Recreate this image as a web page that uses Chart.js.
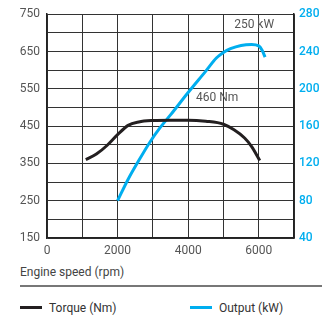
<!DOCTYPE html>
<html>
<head>
<meta charset="utf-8">
<script src="https://cdn.jsdelivr.net/npm/chart.js@4/dist/chart.umd.min.js"></script>
<style>
  body { margin: 0; background: #fff; font-family: Roboto, "Liberation Sans", sans-serif; }
  #wrap { position: relative; width: 322px; height: 316px; }
  #box { position: absolute; left: 0; top: 0; width: 322px; height: 262px; }
  .xtitle { position: absolute; left: 20px; top: 265px; font-size: 12px; color: #444; }
  .rule { position: absolute; left: 20px; top: 285px; width: 302px; height: 2px; background: #777; }
  .leg { position: absolute; top: 301px; font-size: 12px; color: #333; }
  .leg span { display: inline-block; width: 22px; height: 3px; vertical-align: middle; margin-right: 7px; position: relative; top: -1px; }
</style>
</head>
<body>
<div id="wrap">
  <div id="box"><canvas id="engineChart"></canvas></div>
  <div class="xtitle">Engine speed (rpm)</div>
  <div class="rule"></div>
  <div class="leg" style="left:20px"><span style="background:#231f20"></span>Torque (Nm)</div>
  <div class="leg" style="left:190px"><span style="background:#00aeef"></span>Output (kW)</div>
</div>
<script>
// values
const torqueRpm = [1100, 1400, 1700, 2000, 2300, 2600, 3000, 3500, 4000, 4500, 5000, 5300, 5600, 5800, 6030];
const torqueNm  = [360, 375, 398, 427, 452, 461, 465, 466, 466, 463, 455, 440, 418, 395, 358];
const outputRpm = [2000, 2300, 2600, 2920, 3200, 3500, 4000, 4500, 4800, 5000, 5200, 5500, 5800, 6000, 6100, 6180];
const outputKw  = [80, 103, 123, 143, 158, 172, 196, 219, 233, 239, 243, 246.5, 247.5, 246, 241, 234];

const torqueTicks = [150, 250, 350, 450, 550, 650, 750];
const speedTicks = [0, 2000, 4000, 6000];
const peakLabels = [
  { text: '250 kW', x: 5870, y: 268, axis: 'yR' },
  { text: '460 Nm', x: 4820, y: 524, axis: 'y' }
];

function pairs(xs, ys) {
  return xs.map((v, i) => ({ x: v, y: ys[i] }));
}

// draws the two peak value notes inside the plot
const peakPlugin = {
  id: 'peaks',
  afterDatasetsDraw(chart) {
    const ctx = chart.ctx;
    ctx.save();
    ctx.font = '12px Roboto, "Liberation Sans", sans-serif';
    ctx.fillStyle = '#555';
    ctx.textAlign = 'center';
    ctx.textBaseline = 'middle';
    peakLabels.forEach(p => {
      const px = chart.scales.x.getPixelForValue(p.x);
      const py = chart.scales[p.axis].getPixelForValue(p.y);
      ctx.fillText(p.text, px, py);
    });
    ctx.restore();
  }
};

Chart.defaults.font.family = 'Roboto, "Liberation Sans", sans-serif';
Chart.defaults.font.size = 12;

const ctx = document.getElementById('engineChart').getContext('2d');
const chart = new Chart(ctx, {
  type: 'line',
  data: {
    datasets: [{
      label: 'Torque (Nm)',
      data: pairs(torqueRpm, torqueNm),
      yAxisID: 'y',
      borderColor: '#231f20',
      borderWidth: 3,
      pointRadius: 0,
      cubicInterpolationMode: 'monotone',
      fill: false
    }, {
      label: 'Output (kW)',
      data: pairs(outputRpm, outputKw),
      yAxisID: 'yR',
      borderColor: '#00aeef',
      borderWidth: 3,
      pointRadius: 0,
      cubicInterpolationMode: 'monotone',
      fill: false
    }]
  },
  options: {
    responsive: true,
    maintainAspectRatio: false,
    animation: false,
    layout: { padding: { top: 10, left: 0, right: 0, bottom: 0 } },
    plugins: { legend: { display: false }, tooltip: { enabled: false } },
    scales: {
      x: {
        type: 'linear',
        min: 0,
        max: 7000,
        afterFit(s) { s.height = 24; },
        grid: { color: '#333', lineWidth: 1, drawTicks: false },
        border: { color: '#222', width: 1.5 },
        ticks: {
          stepSize: 1000,
          padding: 6,
          color: '#555',
          maxRotation: 0,
          callback: v => speedTicks.includes(v) ? String(v) : ''
        }
      },
      y: {
        position: 'left',
        min: 150,
        max: 750,
        afterFit(s) { s.width = 47; },
        grid: { color: '#333', lineWidth: 1, drawTicks: false },
        border: { color: '#222', width: 1.5 },
        ticks: {
          stepSize: 50,
          padding: 7,
          color: '#555',
          callback: v => torqueTicks.includes(v) ? String(v) : ''
        }
      },
      yR: {
        position: 'right',
        min: 40,
        max: 280,
        afterFit(s) { s.width = 28; },
        grid: { drawOnChartArea: false, drawTicks: false },
        border: { color: '#222', width: 1.5 },
        ticks: {
          stepSize: 40,
          padding: 5,
          color: '#00aeef',
          font: { weight: '500', size: 12 }
        }
      }
    }
  },
  plugins: [peakPlugin]
});
</script>
</body>
</html>
